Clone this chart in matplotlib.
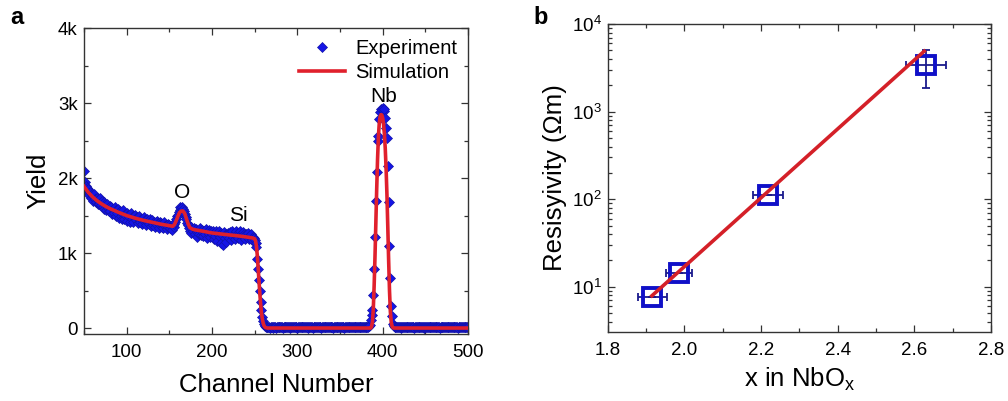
import numpy as np
import matplotlib
matplotlib.use("Agg")
import matplotlib.pyplot as plt
from matplotlib.ticker import MultipleLocator, FuncFormatter, LogLocator, NullFormatter

plt.rcParams['font.family'] = ['Liberation Sans', 'DejaVu Sans']
plt.rcParams['mathtext.fontset'] = 'custom'
plt.rcParams['mathtext.rm'] = 'Liberation Sans'
plt.rcParams['mathtext.it'] = 'Liberation Sans:italic'

# ---------------- Panel a data (RBS spectrum) ----------------
channel_start = 50
channel_end = 500
experiment_yield = [
    2090, 1950, 1900, 1870, 1830, 1850, 1780, 1820, 1740, 1790,
    1760, 1700, 1790, 1720, 1680, 1740, 1660, 1710, 1650, 1730,
    1640, 1700, 1610, 1680, 1590, 1650, 1570, 1660, 1600, 1560,
    1630, 1560, 1610, 1520, 1590, 1540, 1620, 1500, 1570, 1530,
    1590, 1470, 1560, 1500, 1450, 1540, 1580, 1460, 1520, 1490,
    1540, 1430, 1510, 1480, 1410, 1530, 1460, 1500, 1420, 1490,
    1510, 1440, 1480, 1400, 1470, 1500, 1420, 1460, 1390, 1450,
    1480, 1410, 1440, 1370, 1460, 1420, 1390, 1450, 1360, 1430,
    1440, 1380, 1420, 1350, 1410, 1430, 1370, 1400, 1340, 1420,
    1400, 1350, 1390, 1330, 1410, 1360, 1380, 1320, 1390, 1350,
    1380, 1330, 1360, 1310, 1370, 1350, 1390, 1420, 1450, 1500,
    1510, 1550, 1580, 1610, 1600, 1620, 1590, 1560, 1520, 1480,
    1460, 1400, 1370, 1330, 1300, 1350, 1270, 1320, 1290, 1340,
    1250, 1320, 1280, 1220, 1300, 1260, 1330, 1240, 1310, 1270,
    1230, 1300, 1260, 1320, 1200, 1280, 1250, 1310, 1220, 1290,
    1250, 1300, 1190, 1270, 1230, 1290, 1160, 1260, 1300, 1210,
    1270, 1130, 1240, 1110, 1280, 1200, 1250, 1150, 1230, 1270,
    1200, 1280, 1170, 1240, 1300, 1210, 1260, 1190, 1290, 1230,
    1270, 1200, 1250, 1290, 1180, 1240, 1280, 1210, 1260, 1190,
    1250, 1220, 1270, 1190, 1240, 1210, 1260, 1180, 1220, 1200,
    1180, 1140, 1080, 920, 790, 640, 490, 350, 240, 150,
    100, 50, 25, 14, 14, 8, 14, 10, 6, 12,
    9, 15, 7, 11, 18, 6, 10, 13, 8, 12,
    16, 9, 11, 7, 14, 10, 12, 19, 8, 11,
    13, 6, 10, 15, 9, 12, 17, 8, 11, 14,
    7, 12, 10, 16, 9, 13, 8, 11, 15, 10,
    12, 18, 9, 7, 14, 11, 10, 13, 6, 12,
    15, 9, 11, 8, 13, 17, 10, 12, 7, 14,
    11, 9, 16, 10, 12, 8, 13, 11, 15, 9,
    10, 14, 7, 12, 18, 9, 11, 13, 8, 15,
    12, 10, 9, 16, 11, 7, 13, 14, 10, 12,
    8, 15, 11, 9, 13, 12, 17, 10, 14, 9,
    11, 13, 8, 16, 12, 10, 15, 9, 14, 18,
    12, 16, 13, 19, 22,
    40, 110, 180, 245, 445, 790, 1220, 1690, 2075, 2500,
    2560, 2790, 2880, 2920, 2910, 2930, 2900, 2920, 2800, 2670,
    2530, 2160, 1680, 1100, 670, 290, 155, 60, 30, 15,
    10, 13, 8, 11, 9,
    12, 7, 14, 10, 9, 13, 11, 8, 15, 10,
    9, 12, 14, 8, 11, 10, 13, 7, 12, 9,
    11, 15, 8, 10, 13, 9, 12, 14, 7, 11,
    10, 9, 13, 12, 8, 14, 11, 10, 9, 12,
    13, 8, 11, 15, 10, 9, 12, 7, 14, 11,
    9, 12, 10, 13, 8, 11, 14, 9, 12, 10,
    11, 8, 13, 10, 12, 9, 15, 11, 7, 12,
    10, 13, 9, 11, 14, 8, 12, 10, 9, 13, 11,
]
experiment_channel = np.arange(channel_start, channel_end + 1)
assert len(experiment_yield) == len(experiment_channel), len(experiment_yield)

simulation_channel = [
    50, 55, 60, 65, 70, 75, 80, 85, 90, 95, 100, 110, 120, 130, 140, 150,
    154, 156, 158, 160, 162, 164, 166, 168, 170, 172, 174, 177, 180, 190,
    200, 210, 220, 230, 240, 248, 250, 251, 252, 253, 254, 255, 256, 257,
    258, 259, 260, 261, 262, 263, 265, 385, 386, 387, 388, 389, 390, 391,
    392, 393, 394, 395, 396, 397, 398, 399, 400, 401, 402, 403, 404, 405,
    406, 407, 408, 409, 410, 411, 412, 413, 500,
]
simulation_yield = [
    1890, 1810, 1750, 1700, 1660, 1625, 1595, 1570, 1545, 1522, 1500, 1465, 1435, 1410, 1385, 1365,
    1357, 1380, 1430, 1490, 1540, 1560, 1560, 1530, 1460, 1390, 1340, 1320, 1310, 1290,
    1268, 1255, 1242, 1230, 1215, 1200, 1190, 1165, 1100, 980, 820, 640, 470, 320,
    200, 120, 65, 32, 14, 5, 0, 0, 0, 20, 80, 250, 560, 950,
    1400, 1850, 2250, 2550, 2730, 2820, 2845, 2840, 2800, 2720, 2590, 2400, 2130, 1780,
    1350, 900, 500, 220, 80, 25, 5, 0, 0,
]

peak_labels = ["O", "Si", "Nb"]
peak_label_x = [165, 231, 401]
peak_label_y = [1810, 1500, 3090]

# ---------------- Panel b data (resistivity) ----------------
x_nbox = [1.916, 1.986, 2.218, 2.630]
resistivity = [7.7, 14.3, 113, 3390]
x_err = [0.038, 0.034, 0.040, 0.052]
res_err_low = [0.0, 0.0, 0.0, 1550]
res_err_high = [0.0, 0.0, 0.0, 1650]
fit_x = [1.915, 2.626]
fit_y = [7.9, 4900]

# ---------------- Figure ----------------
fig = plt.figure(figsize=(10.08, 4.01), dpi=100)
ax1 = fig.add_axes([0.0833, 0.167, 0.3810, 0.763])
ax2 = fig.add_axes([0.6030, 0.173, 0.3800, 0.767])

spine_color = '#333333'
blue = '#1515e6'
red = '#e0202c'

# Panel a
ax1.plot(experiment_channel, experiment_yield, linestyle='none', marker='D',
         ms=5.6, mfc=blue, mec='#1212a8', mew=0.5, label='Experiment', zorder=2)
ax1.plot(simulation_channel, simulation_yield, color=red, lw=2.6,
         label='Simulation', zorder=3)
ax1.set_xlim(50, 500)
ax1.set_ylim(-80, 4000)
ax1.xaxis.set_major_locator(MultipleLocator(100))
ax1.xaxis.set_minor_locator(MultipleLocator(50))
ax1.yaxis.set_major_locator(MultipleLocator(1000))
ax1.yaxis.set_minor_locator(MultipleLocator(500))
ax1.yaxis.set_major_formatter(FuncFormatter(lambda v, p: '0' if v == 0 else f'{int(v/1000)}k'))
ax1.set_xlabel('Channel Number', fontsize=18.5, labelpad=8)
ax1.set_ylabel('Yield', fontsize=18.5, labelpad=5)
for t, x, y in zip(peak_labels, peak_label_x, peak_label_y):
    ax1.text(x, y, t, fontsize=15, ha='center', va='center')
leg = ax1.legend(loc='upper right', frameon=False, fontsize=14.5,
                 handlelength=2.3, handletextpad=0.5, borderaxespad=0.15,
                 labelspacing=0.25, bbox_to_anchor=(1.0, 1.0))

# Panel b
ax2.errorbar(x_nbox, resistivity, xerr=x_err, yerr=[res_err_low, res_err_high],
             fmt='none', ecolor='#1a1a8c', elinewidth=1.3, capsize=3, capthick=1.3, zorder=2)
ax2.plot(x_nbox, resistivity, linestyle='none', marker='s', ms=12.5,
         mfc='none', mec='#1010c8', mew=2.8, zorder=3)
ax2.plot(fit_x, fit_y, color='#d42028', lw=2.6, zorder=4)
ax2.set_yscale('log')
ax2.set_xlim(1.8, 2.8)
ax2.set_ylim(3.08, 1e4)
ax2.xaxis.set_major_locator(MultipleLocator(0.2))
ax2.xaxis.set_minor_locator(MultipleLocator(0.1))
ax2.xaxis.set_major_formatter(FuncFormatter(lambda v, p: f'{v:.1f}'))
ax2.yaxis.set_major_locator(LogLocator(base=10, numticks=10))
ax2.yaxis.set_minor_locator(LogLocator(base=10, subs=np.arange(2, 10), numticks=20))
ax2.yaxis.set_minor_formatter(NullFormatter())
ax2.set_xlabel(r'x in NbO$_\mathregular{x}$', fontsize=18.5, labelpad=5)
ax2.set_ylabel('Resisyivity (\u03a9m)', fontsize=18.5, labelpad=3)

for ax in (ax1, ax2):
    for s in ax.spines.values():
        s.set_color(spine_color)
        s.set_linewidth(1.0)
    ax.tick_params(which='both', direction='in', top=True, right=True,
                   color=spine_color, labelsize=13.5, width=0.9)
    ax.tick_params(which='major', length=5)
    ax.tick_params(which='minor', length=3)
    ax.tick_params(axis='x', which='major', pad=7.5)
    ax.tick_params(axis='y', which='major', pad=4.5)

fig.text(0.010, 0.957, 'a', fontsize=17, fontweight='bold', va='center')
fig.text(0.529, 0.957, 'b', fontsize=17, fontweight='bold', va='center')

fig.savefig('out.png', dpi=100)
